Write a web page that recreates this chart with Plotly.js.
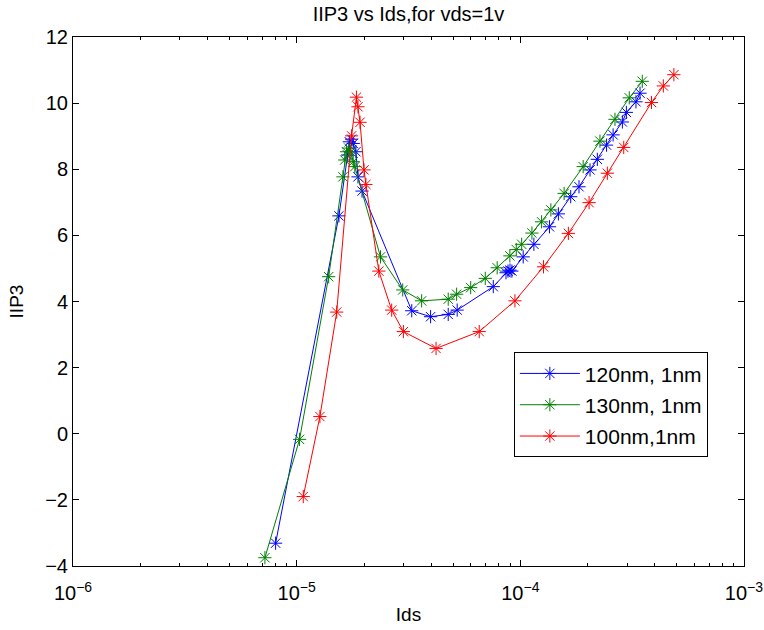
<!DOCTYPE html>
<html>
<head>
<meta charset="utf-8">
<script src="https://cdn.plot.ly/plotly-3.0.1.min.js"></script>
<style>html,body{margin:0;padding:0;background:#fff;}#chart{width:764px;height:630px;}</style>
</head>
<body>
<div id="chart"></div>
<script>
// 120nm, 1nm (blue)
var ids120 = [8.05e-6, 1.545e-5, 1.69e-5, 1.72e-5, 1.76e-5, 1.79e-5, 1.84e-5, 1.88e-5, 1.96e-5,
  3.27e-5, 3.97e-5, 4.76e-5, 5.22e-5, 7.57e-5, 8.63e-5, 8.81e-5, 8.99e-5, 9.17e-5,
  1.03e-4, 1.15e-4, 1.35e-4, 1.48e-4, 1.68e-4, 1.83e-4, 2.05e-4, 2.21e-4, 2.43e-4,
  2.60e-4, 2.86e-4, 2.98e-4, 3.29e-4, 3.43e-4];
var iip120 = [-3.31, 6.59, 8.43, 8.83, 8.91, 8.78, 8.53, 7.77, 7.34,
  3.72, 3.54, 3.61, 3.74, 4.45, 4.87, 4.92, 4.95, 4.92,
  5.35, 5.73, 6.26, 6.65, 7.17, 7.47, 7.98, 8.30, 8.73,
  9.04, 9.43, 9.72, 10.04, 10.30];

// 130nm, 1nm (green)
var ids130 = [7.21e-6, 1.03e-5, 1.39e-5, 1.61e-5, 1.64e-5, 1.67e-5, 1.71e-5, 1.75e-5, 1.79e-5, 1.82e-5,
  2.37e-5, 2.98e-5, 3.62e-5, 4.76e-5, 5.19e-5, 6.00e-5, 6.97e-5, 7.88e-5, 8.98e-5, 9.59e-5,
  1.014e-4, 1.127e-4, 1.245e-4, 1.37e-4, 1.57e-4, 1.91e-4, 2.27e-4, 2.65e-4, 3.07e-4, 3.51e-4];
var iip130 = [-3.75, -0.17, 4.75, 7.77, 8.28, 8.53, 8.64, 8.52, 8.23, 8.08,
  5.35, 4.35, 4.02, 4.07, 4.22, 4.42, 4.70, 5.02, 5.38, 5.57,
  5.73, 6.07, 6.41, 6.77, 7.27, 8.08, 8.85, 9.51, 10.16, 10.66];

// 100nm,1nm (red)
var ids100 = [1.07e-5, 1.27e-5, 1.51e-5, 1.76e-5, 1.85e-5, 1.88e-5, 1.92e-5, 2.00e-5, 2.04e-5,
  2.33e-5, 2.66e-5, 3.00e-5, 4.20e-5, 6.55e-5, 9.46e-5, 1.27e-4, 1.64e-4, 2.03e-4,
  2.45e-4, 2.90e-4, 3.86e-4, 4.36e-4, 4.86e-4];
var iip100 = [-1.90, 0.52, 3.68, 9.01, 10.18, 9.89, 9.42, 7.98, 7.54,
  4.92, 3.74, 3.09, 2.58, 3.09, 4.02, 5.05, 6.06, 6.99,
  7.88, 8.66, 10.02, 10.52, 10.86];

var seriesNames = ['120nm, 1nm', '130nm, 1nm', '100nm,1nm'];
var seriesColors = ['#0000ff', '#008000', '#ff0000'];
var yTicks = [-4, -2, 0, 2, 4, 6, 8, 10, 12];
var xMajor = [1e-6, 1e-5, 1e-4, 1e-3];
var xMajorText = ['10<sup>\u22126</sup>', '10<sup>\u22125</sup>', '10<sup>\u22124</sup>', '10<sup>\u22123</sup>'];
var xMinor = [];
[1e-6, 1e-5, 1e-4].forEach(function (d) { for (var k = 2; k <= 9; k++) xMinor.push(k * d); });

var xs = [ids120, ids130, ids100];
var ys = [iip120, iip130, iip100];
var traces = xs.map(function (x, i) {
  return {
    x: x, y: ys[i], type: 'scatter', mode: 'lines+markers', name: seriesNames[i],
    legendgroup: 'g' + i,
    line: {color: seriesColors[i], width: 1},
    marker: {symbol: 'asterisk-open', size: 11, color: seriesColors[i], line: {color: seriesColors[i], width: 1}}
  };
});

var font = 'Liberation Sans, Arial, Helvetica, sans-serif';
var layout = {
  width: 764, height: 630,
  paper_bgcolor: '#ffffff', plot_bgcolor: '#ffffff',
  margin: {l: 73, r: 20, t: 37, b: 64},
  font: {family: font, size: 19, color: '#000'},
  title: {text: 'IIP3 vs Ids,for vds=1v', x: 0.5, xref: 'paper', xanchor: 'center',
          y: 0.977, yref: 'container', yanchor: 'middle', font: {family: font, size: 20, color: '#000'}},
  xaxis: {
    type: 'log', range: [-6.0002, -2.9998], tickmode: 'array', tickvals: xMajor, ticktext: xMajorText,
    showgrid: false, zeroline: false, showline: true, linecolor: '#000', linewidth: 1,
    mirror: 'ticks', ticks: 'inside', ticklen: 6, tickcolor: '#000', ticklabelstandoff: 9,
    minor: {tickmode: 'array', tickvals: xMinor, ticks: 'inside', ticklen: 3, tickcolor: '#000', showgrid: false},
    tickfont: {family: font, size: 20},
    title: {text: 'Ids', font: {family: font, size: 19}, standoff: 4}
  },
  yaxis: {
    range: [-4, 12], tickmode: 'array', tickvals: yTicks, ticktext: yTicks.map(function (v) { return v < 0 ? '\u2212' + Math.abs(v) : String(v); }),
    showgrid: false, zeroline: false, showline: true, linecolor: '#000', linewidth: 1,
    mirror: 'ticks', ticks: 'inside', ticklen: 6, tickcolor: '#000',
    tickfont: {family: font, size: 20},
    title: {text: 'IIP3', font: {family: font, size: 19}, standoff: 16}
  },
  legend: {
    x: 0.657, y: 0.404, xanchor: 'left', yanchor: 'top',
    bgcolor: '#ffffff', bordercolor: '#000', borderwidth: 1,
    font: {family: font, size: 21}, tracegroupgap: 1, itemwidth: 60
  },
  showlegend: true
};

Plotly.newPlot('chart', traces, layout, {displayModeBar: false, staticPlot: true});
</script>
</body>
</html>
